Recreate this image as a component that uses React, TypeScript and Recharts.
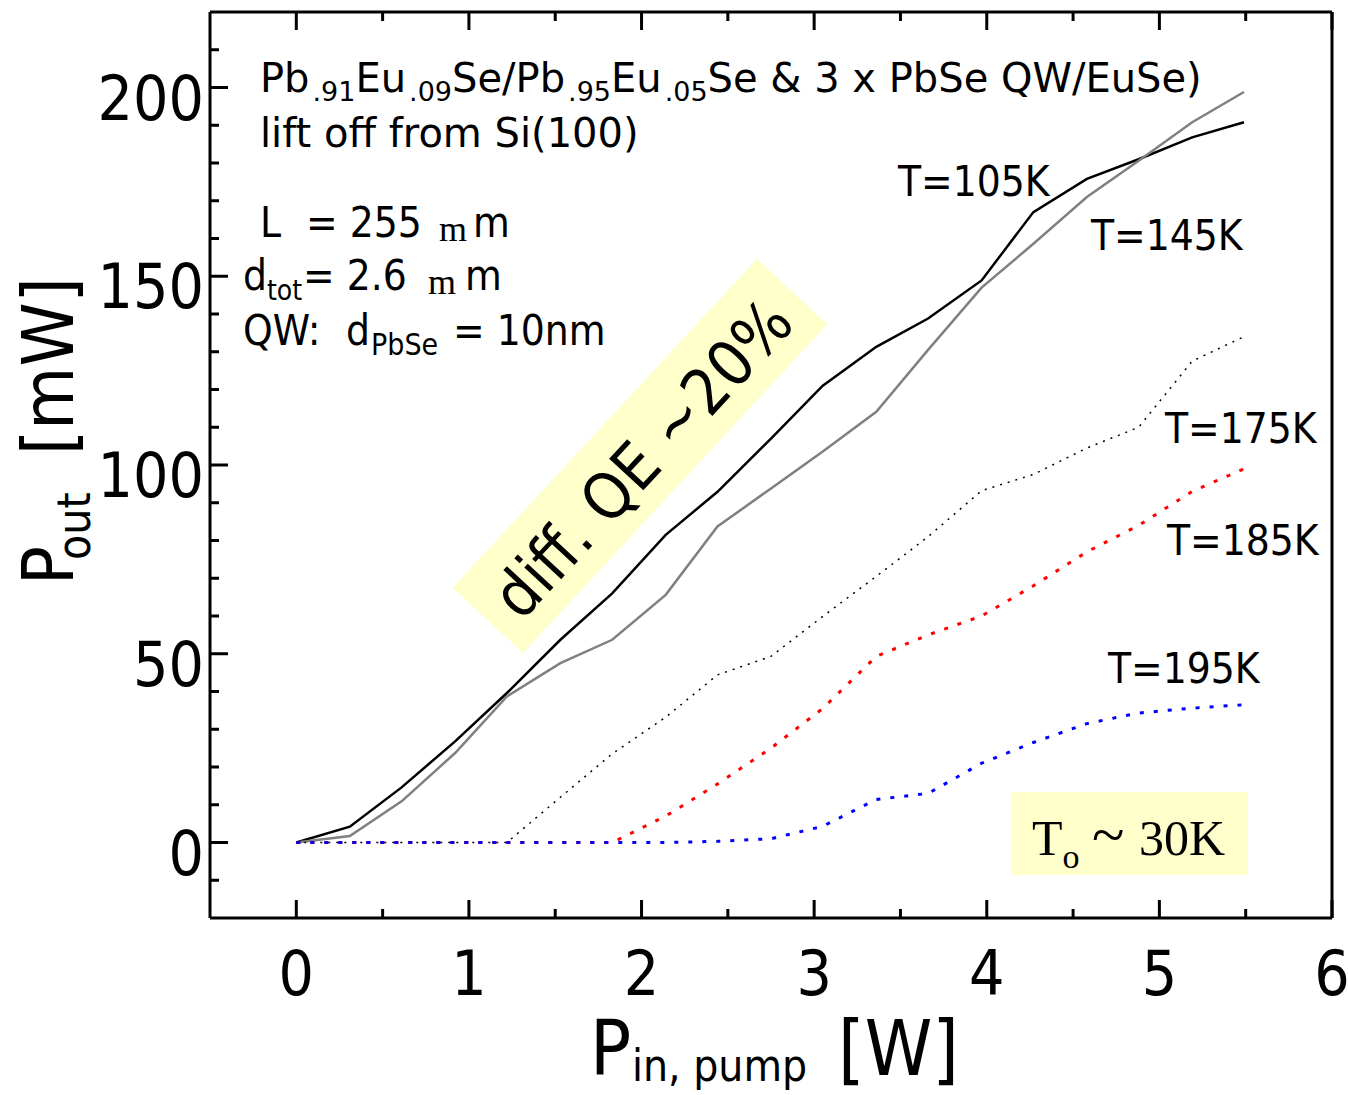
import { LineChart, Line, XAxis, YAxis } from "recharts";

// pump power [W] at each measured step
const pumpPower = [0, 0.31, 0.61, 0.92, 1.22, 1.53, 1.83, 2.14, 2.44, 2.75, 3.05, 3.36, 3.66, 3.97, 4.27, 4.58, 4.88, 5.19, 5.49];

// output power [mW] per heat sink temperature
const out105K = [0, 4.2, 14.6, 26.8, 39.6, 53.7, 66, 81.5, 92.9, 107, 121, 131.3, 138.8, 148.9, 167, 175.8, 181, 186.8, 190.8];
const out145K = [0, 1.7, 10.9, 23.7, 38.7, 47.5, 53.7, 65.6, 83.7, 93.8, 103.6, 114.1, 130.5, 147, 158.6, 171, 180.6, 190.8, 198.8];
const out175K = [0, 0, 0, 0, 0, 12, 23.5, 33.2, 44.4, 49.3, 59.9, 70.5, 81, 93.2, 97.5, 104.5, 110, 127.5, 134];
const out185K = [0, 0, 0, 0, 0, 0, 0, 7, 15.5, 25, 35.5, 49.3, 55, 60, 68, 77, 84, 93, 99];
const out195K = [0, 0, 0, 0, 0, 0, 0, 0, 0.3, 1, 4.3, 11.4, 13, 21, 26.5, 31.5, 34.3, 35.6, 36.5];

const xTicks = [0, 0.5, 1, 1.5, 2, 2.5, 3, 3.5, 4, 4.5, 5, 5.5, 6];
const yTicks = [-10, 0, 10, 20, 30, 40, 50, 60, 70, 80, 90, 100, 110, 120, 130, 140, 150, 160, 170, 180, 190, 200, 210];
const yLabels = [0, 50, 100, 150, 200];

const data = pumpPower.map((x, i) => ({
  x,
  t105: out105K[i],
  t145: out145K[i],
  t175: out175K[i],
  t185: out185K[i],
  t195: out195K[i],
}));

const W = 1348;
const H = 1095;
const PLOT_L = 210;
const PLOT_R = 1332;
const PLOT_T = 12;
const PLOT_B = 918;

const SANS = "'DejaVu Sans Condensed', 'DejaVu Sans', sans-serif";
const SANS_WIDE = "'DejaVu Sans', sans-serif";
const SERIF = "'Liberation Serif', 'DejaVu Serif', serif";

function BottomTick(props: any) {
  const { x, payload } = props;
  const major = Number.isInteger(payload.value);
  return (
    <g>
      <line x1={x} x2={x} y1={PLOT_B} y2={PLOT_B - (major ? 18 : 9)} stroke="#000" strokeWidth={3} />
      {major && (
        <text x={x} y={995} textAnchor="middle" fontSize={62} fontFamily={SANS} fontStretch="condensed" fill="#000">
          {payload.value}
        </text>
      )}
    </g>
  );
}

function TopTick(props: any) {
  const { x, payload } = props;
  const major = Number.isInteger(payload.value);
  return <line x1={x} x2={x} y1={PLOT_T} y2={PLOT_T + (major ? 18 : 9)} stroke="#000" strokeWidth={3} />;
}

function LeftTick(props: any) {
  const { y, payload } = props;
  const major = payload.value % 50 === 0;
  return (
    <g>
      <line x1={PLOT_L} x2={PLOT_L + (major ? 18 : 9)} y1={y} y2={y} stroke="#000" strokeWidth={3} />
      {yLabels.includes(payload.value) && (
        <text x={204} y={y + 32} textAnchor="end" fontSize={62} fontFamily={SANS} fontStretch="condensed" fill="#000">
          {payload.value}
        </text>
      )}
    </g>
  );
}

function RightTick(props: any) {
  const { y, payload } = props;
  const major = payload.value % 50 === 0;
  return <line x1={PLOT_R} x2={PLOT_R - (major ? 18 : 9)} y1={y} y2={y} stroke="#000" strokeWidth={3} />;
}

function Backdrop() {
  return (
    <svg width={W} height={H} style={{ position: "absolute", left: 0, top: 0 }}>
      <g transform="translate(640,456) rotate(-47.2)">
        <rect x={-224} y={-48} width={448} height={96} fill="#ffffcc" />
      </g>
      <rect x={1011} y={792} width={237} height={83} fill="#ffffcc" />
    </svg>
  );
}

function Annotations() {
  const sub = { fontSize: 28 };
  return (
    <svg width={W} height={H} style={{ position: "absolute", left: 0, top: 0, pointerEvents: "none" }}>
      <g fontFamily={SANS} fontStretch="condensed" fill="#000" fontSize={42}>
        <g fontFamily={SANS_WIDE} fontStretch="normal" fontSize={40}>
          <text x={260} y={92}>
            Pb<tspan fontSize={27} dx={3} dy={9}>.91</tspan>
            <tspan dy={-9}>Eu</tspan>
            <tspan fontSize={27} dx={3} dy={9}>.09</tspan>
            <tspan dy={-9}>Se/Pb</tspan>
            <tspan fontSize={27} dx={3} dy={9}>.95</tspan>
            <tspan dy={-9}>Eu</tspan>
            <tspan fontSize={27} dx={3} dy={9}>.05</tspan>
            <tspan dy={-9}>Se &amp; 3 x PbSe QW/EuSe)</tspan>
          </text>
          <text x={260} y={147}>lift off from Si(100)</text>
        </g>

        <text y={237}>
          <tspan x={260}>L</tspan>
          <tspan x={306}>= 255</tspan>
          <tspan x={439} dy={4} fontFamily={SERIF} fontStretch="normal" fontSize={36}>m</tspan>
          <tspan x={473} dy={-4}>m</tspan>
        </text>
        <text y={290}>
          <tspan x={243}>d</tspan>
          <tspan {...sub} dy={10}>tot</tspan>
          <tspan x={303} dy={-10}>= 2.6</tspan>
          <tspan x={428} dy={4} fontFamily={SERIF} fontStretch="normal" fontSize={36}>m</tspan>
          <tspan x={465} dy={-4}>m</tspan>
        </text>
        <text y={345}>
          <tspan x={243}>QW:</tspan>
          <tspan x={346}>d</tspan>
          <tspan x={371} dy={10} fontSize={30}>PbSe</tspan>
          <tspan x={453} dy={-10}>= 10nm</tspan>
        </text>

        <text x={898} y={196}>T=105K</text>
        <text x={1091} y={250}>T=145K</text>
        <text x={1165} y={443}>T=175K</text>
        <text x={1167} y={555}>T=185K</text>
        <text x={1108} y={683}>T=195K</text>

        <text
          transform="translate(642,458) rotate(-47.2)"
          x={0}
          y={23}
          textAnchor="middle"
          fontSize={64}
        >
          diff. QE ~20%
        </text>

        <text y={1075} fontSize={76}>
          <tspan x={590}>P</tspan>
          <tspan x={632} dy={6} fontSize={44}>in, pump</tspan>
          <tspan x={838} dy={-6}>[W]</tspan>
        </text>

        <text transform="translate(73,585) rotate(-90)" fontSize={72}>
          <tspan x={0} y={0}>P</tspan>
          <tspan x={25} dy={17} fontSize={46}>out</tspan>
          <tspan x={130} dy={-17}>[mW]</tspan>
        </text>
      </g>

      <text x={1032} y={855} fontFamily={SERIF} fontSize={50} fill="#000">
        T<tspan dy={13} fontSize={34}>o</tspan>
        <tspan x={1092} dy={-13} fontSize={60}>~</tspan>
        <tspan x={1139} fontSize={50}>30K</tspan>
      </text>
    </svg>
  );
}

export default function App() {
  return (
    <div style={{ position: "absolute", left: 0, top: 0, width: W, height: H, background: "#fff" }}>
      <Backdrop />
      <div style={{ position: "absolute", left: 0, top: 0 }}>
        <LineChart
          width={W}
          height={H}
          data={data}
          margin={{ top: PLOT_T - 2, right: W - PLOT_R - 2, bottom: H - PLOT_B - 40, left: PLOT_L - 40 }}
        >
          <XAxis
            dataKey="x"
            type="number"
            domain={[-0.5, 6]}
            ticks={xTicks}
            interval={0}
            height={40}
            tickLine={false}
            axisLine={{ stroke: "#000", strokeWidth: 3 }}
            tick={(p: any) => <BottomTick {...p} />}
          />
          <XAxis
            xAxisId="top"
            orientation="top"
            dataKey="x"
            type="number"
            domain={[-0.5, 6]}
            ticks={xTicks}
            interval={0}
            height={2}
            tickLine={false}
            axisLine={{ stroke: "#000", strokeWidth: 3 }}
            tick={(p: any) => <TopTick {...p} />}
          />
          <YAxis
            type="number"
            domain={[-20, 220]}
            ticks={yTicks}
            interval={0}
            width={40}
            tickLine={false}
            axisLine={{ stroke: "#000", strokeWidth: 3 }}
            tick={(p: any) => <LeftTick {...p} />}
          />
          <YAxis
            yAxisId="right"
            orientation="right"
            type="number"
            domain={[-20, 220]}
            ticks={yTicks}
            interval={0}
            width={2}
            tickLine={false}
            axisLine={{ stroke: "#000", strokeWidth: 3 }}
            tick={(p: any) => <RightTick {...p} />}
          />
          <Line type="linear" dataKey="t105" stroke="#000000" strokeWidth={2.5} dot={false} isAnimationActive={false} />
          <Line type="linear" dataKey="t145" stroke="#808080" strokeWidth={2.5} dot={false} isAnimationActive={false} />
          <Line type="linear" dataKey="t175" stroke="#000000" strokeWidth={1.5} strokeDasharray="2 6" dot={false} isAnimationActive={false} />
          <Line type="linear" dataKey="t185" stroke="#ff0000" strokeWidth={3} strokeDasharray="4 10" dot={false} isAnimationActive={false} />
          <Line type="linear" dataKey="t195" stroke="#0000ff" strokeWidth={3} strokeDasharray="4 10" dot={false} isAnimationActive={false} />
        </LineChart>
      </div>
      <Annotations />
    </div>
  );
}
